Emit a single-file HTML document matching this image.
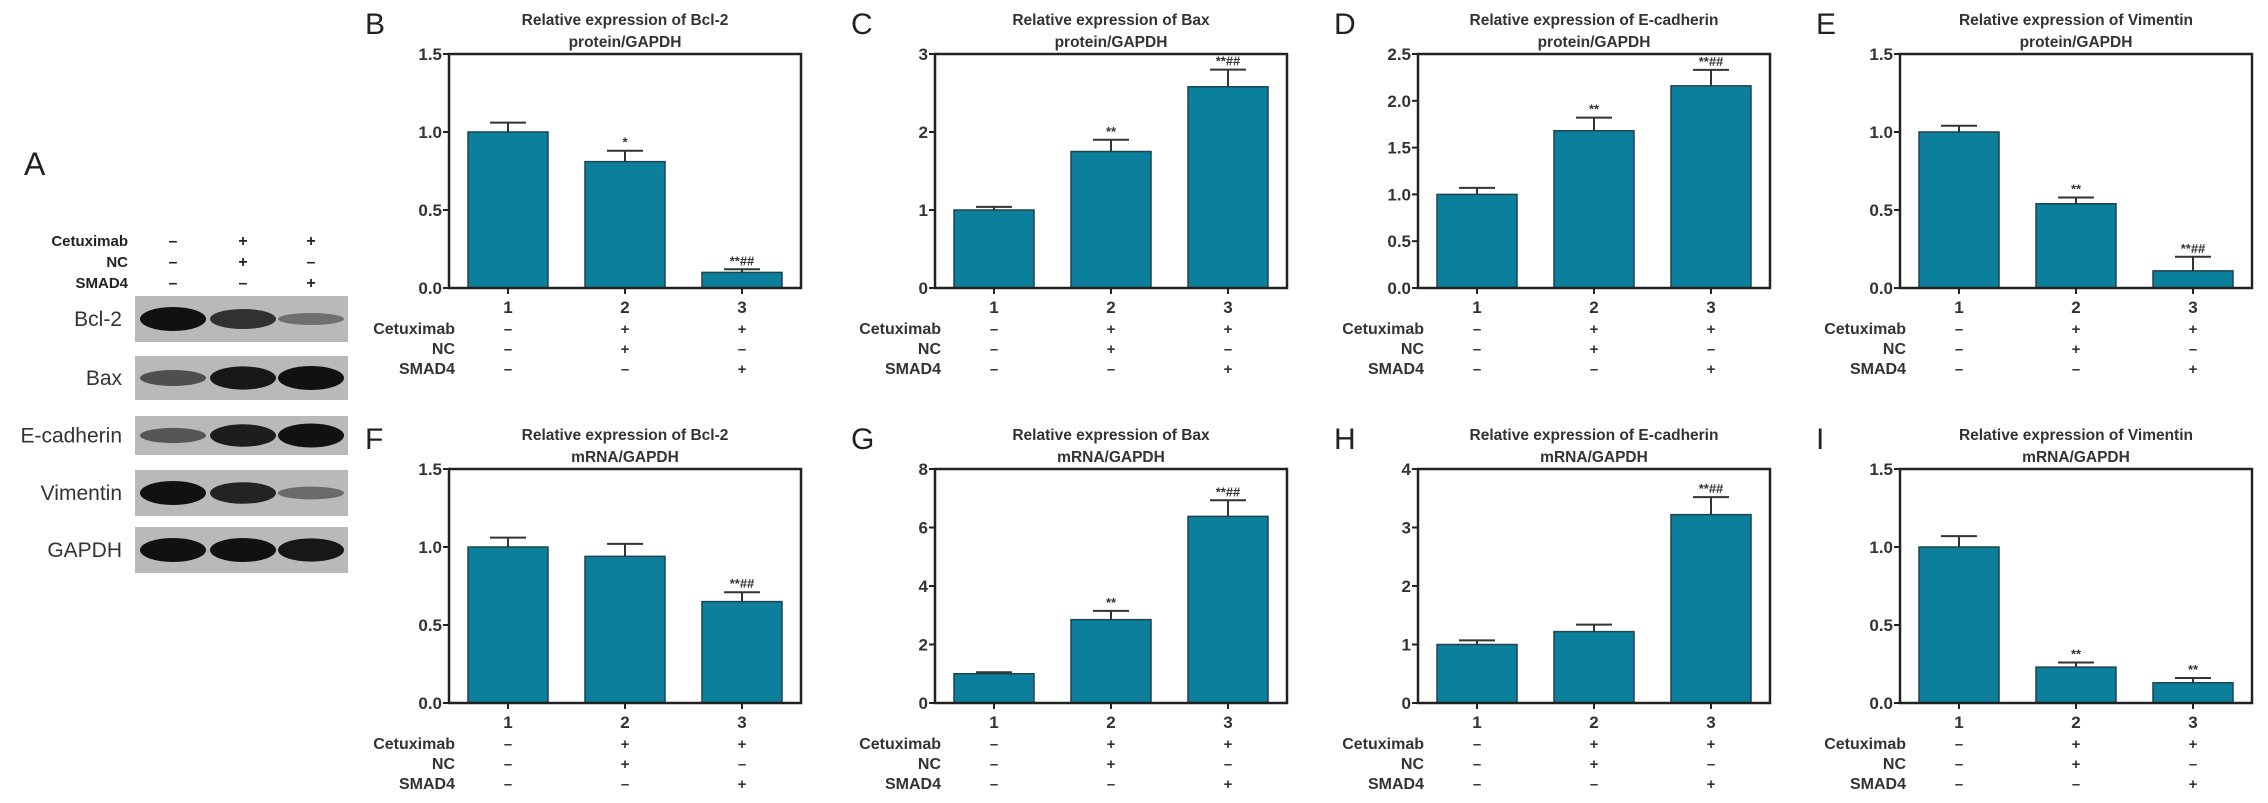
<!DOCTYPE html>
<html><head><meta charset="utf-8">
<style>
html,body{margin:0;padding:0;background:#fff;}
svg{display:block;font-family:"Liberation Sans",Arial,sans-serif;}
</style></head>
<body>
<svg id="fig" width="2268" height="803" viewBox="0 0 2268 803" xmlns="http://www.w3.org/2000/svg">
  <g>
    <text x="24" y="175" font-size="32" fill="#222">A</text>
    <g font-size="15" font-weight="bold" fill="#222" text-anchor="end">
      <text x="128" y="246">Cetuximab</text>
      <text x="128" y="267">NC</text>
      <text x="128" y="288">SMAD4</text>
    </g>
    <g font-size="16" font-weight="bold" fill="#222" text-anchor="middle">
      <text x="173" y="246">–</text><text x="243" y="246">+</text><text x="311" y="246">+</text>
      <text x="173" y="267">–</text><text x="243" y="267">+</text><text x="311" y="267">–</text>
      <text x="173" y="288">–</text><text x="243" y="288">–</text><text x="311" y="288">+</text>
    </g>
    <g id="blots"></g>
  </g>
  <g id="charts"></g>
</svg>
<script>
// ---- chart data ----
const panelLetters = ["B","C","D","E","F","G","H","I"];
const panelGenes = ["Bcl-2","Bax","E-cadherin","Vimentin","Bcl-2","Bax","E-cadherin","Vimentin"];
const panelKinds = ["protein","protein","protein","protein","mRNA","mRNA","mRNA","mRNA"];
const categories = ["1","2","3"];
const cetuximabSigns = ["–","+","+"];
const ncSigns = ["–","+","–"];
const smad4Signs = ["–","–","+"];
const valuesB = [1.0, 0.81, 0.10];
const errorsB = [0.06, 0.07, 0.02];
const sigB = ["", "*", "**##"];
const valuesC = [1.0, 1.75, 2.58];
const errorsC = [0.04, 0.15, 0.22];
const sigC = ["", "**", "**##"];
const valuesD = [1.0, 1.68, 2.16];
const errorsD = [0.07, 0.14, 0.17];
const sigD = ["", "**", "**##"];
const valuesE = [1.0, 0.54, 0.11];
const errorsE = [0.04, 0.04, 0.09];
const sigE = ["", "**", "**##"];
const valuesF = [1.0, 0.94, 0.65];
const errorsF = [0.06, 0.08, 0.06];
const sigF = ["", "", "**##"];
const valuesG = [1.0, 2.85, 6.38];
const errorsG = [0.05, 0.3, 0.55];
const sigG = ["", "**", "**##"];
const valuesH = [1.0, 1.22, 3.22];
const errorsH = [0.07, 0.12, 0.3];
const sigH = ["", "", "**##"];
const valuesI = [1.0, 0.23, 0.13];
const errorsI = [0.07, 0.03, 0.03];
const sigI = ["", "**", "**"];
const ticksHalf = [0, 0.5, 1.0, 1.5];
const tickLabelsHalf = ["0.0","0.5","1.0","1.5"];
const ticksC = [0, 1, 2, 3];
const tickLabelsC = ["0","1","2","3"];
const ticksD = [0, 0.5, 1.0, 1.5, 2.0, 2.5];
const tickLabelsD = ["0.0","0.5","1.0","1.5","2.0","2.5"];
const ticksG = [0, 2, 4, 6, 8];
const tickLabelsG = ["0","2","4","6","8"];
const ticksH = [0, 1, 2, 3, 4];
const tickLabelsH = ["0","1","2","3","4"];
const blotNames = ["Bcl-2","Bax","E-cadherin","Vimentin","GAPDH"];
const blotIntensity = [[1.0,0.75,0.25],[0.5,0.95,1.0],[0.45,0.9,1.0],[1.0,0.85,0.3],[1.0,1.0,0.95]];

const allValues = [valuesB,valuesC,valuesD,valuesE,valuesF,valuesG,valuesH,valuesI];
const allErrors = [errorsB,errorsC,errorsD,errorsE,errorsF,errorsG,errorsH,errorsI];
const allSig = [sigB,sigC,sigD,sigE,sigF,sigG,sigH,sigI];
const allTicks = [ticksHalf,ticksC,ticksD,ticksHalf,ticksHalf,ticksG,ticksH,ticksHalf];
const allTickLabels = [tickLabelsHalf,tickLabelsC,tickLabelsD,tickLabelsHalf,tickLabelsHalf,tickLabelsG,tickLabelsH,tickLabelsHalf];

const NS = "http://www.w3.org/2000/svg";
function mk(tag, attrs, parent, text){
  const e = document.createElementNS(NS, tag);
  for (const k in attrs) e.setAttribute(k, attrs[k]);
  if (text !== undefined) e.textContent = text;
  parent.appendChild(e);
  return e;
}

// ---- blots ----
const blots = document.getElementById("blots");
const blotTops = [296, 356, 416, 470, 527];
const blotHeights = [46, 44, 39, 46, 46];
const laneX = [173, 243, 311];
blotNames.forEach((name, i) => {
  const g = mk("g", {}, blots);
  
  
  const y = blotTops[i], h = blotHeights[i];
  mk("rect", {x:135, y:y, width:213, height:h, fill:"#b9b9b9"}, g);
  const lbl = mk("text", {x:122, y:y+h/2+7, "font-size":21, fill:"#333", "text-anchor":"end"}, g, name);
  
  
  blotIntensity[i].forEach((v, j) => {
    const band = mk("ellipse", {cx:laneX[j], cy:y+h/2, rx:33, ry:4+8*v, fill:"#111", opacity:(0.25+0.75*v).toFixed(2)}, g);
    
    
  });
});

// ---- charts ----
const charts = document.getElementById("charts");
const axisLefts = [449, 935, 1418, 1900];
const axisW = 352;
const rowTop = [54, 469];
const rowBottom = [288, 703];
const barOffsets = [59, 176, 293];
const barW = 80;

for (let p = 0; p < 8; p++) {
  const row = p < 4 ? 0 : 1;
  const L = axisLefts[p % 4], T = rowTop[row], B = rowBottom[row];
  const vals = allValues[p], errs = allErrors[p], sig = allSig[p];
  const ticks = allTicks[p], tl = allTickLabels[p];
  const yMax = ticks[ticks.length - 1];
  const yS = v => B - (v / yMax) * (B - T);
  const g = mk("g", {}, charts);
  
  

  const letter = mk("text", {x:L-84, y:T-20, "font-size":30, fill:"#222"}, g, panelLetters[p]);
  
  
  const cx = L + axisW/2;
  const t1 = mk("text", {x:cx, y:T-29, "font-size":15.5, "font-weight":"bold", fill:"#333", "text-anchor":"middle"}, g, "Relative expression of " + panelGenes[p]);
  
  
  const t2 = mk("text", {x:cx, y:T-7, "font-size":15.5, "font-weight":"bold", fill:"#333", "text-anchor":"middle"}, g, panelKinds[p] + "/GAPDH");
  
  

  // bars
  vals.forEach((v, i) => {
    const bx = L + barOffsets[i];
    const top = yS(v), etop = yS(v + errs[i]);
    const bar = mk("rect", {x:bx - barW/2, y:top, width:barW, height:B - top, fill:"#0b7f9b", stroke:"#1e4550", "stroke-width":1.5}, g);
    
    
    const eb = mk("path", {d:`M${bx} ${top} V${etop} M${bx-18} ${etop} H${bx+18}`, stroke:"#333", "stroke-width":2, fill:"none"}, g);
    
    
    if (sig[i]) {
      const s = mk("text", {x:bx, y:etop - 4, "font-size":13, "font-weight":"bold", fill:"#333", "text-anchor":"middle"}, g, sig[i]);
      
      
    }
    const xt = mk("line", {x1:bx, y1:B, x2:bx, y2:B+6, stroke:"#222", "stroke-width":2}, g);
    
    
    const cl = mk("text", {x:bx, y:B+25, "font-size":17, "font-weight":"bold", fill:"#333", "text-anchor":"middle"}, g, categories[i]);
    
    
    [cetuximabSigns, ncSigns, smad4Signs].forEach((arr, r) => {
      const st = mk("text", {x:bx, y:B+46+r*20, "font-size":15, "font-weight":"bold", fill:"#333", "text-anchor":"middle"}, g, arr[i]);
      
      
    });
  });

  // frame
  const frame = mk("rect", {x:L, y:T, width:axisW, height:B-T, fill:"none", stroke:"#222", "stroke-width":2.5}, g);
  
  

  ticks.forEach((t, k) => {
    const y = yS(t);
    const yt = mk("line", {x1:L-6, y1:y, x2:L, y2:y, stroke:"#222", "stroke-width":2}, g);
    
    
    const yl = mk("text", {x:L-7, y:y+6, "font-size":17, "font-weight":"bold", fill:"#333", "text-anchor":"end"}, g, tl[k]);
    
    
  });

  ["Cetuximab","NC","SMAD4"].forEach((name, r) => {
    const rl = mk("text", {x:L+6, y:B+46+r*20, "font-size":16, "font-weight":"bold", fill:"#333", "text-anchor":"end"}, g, name);
    
    
  });
}
</script>
</body></html>
